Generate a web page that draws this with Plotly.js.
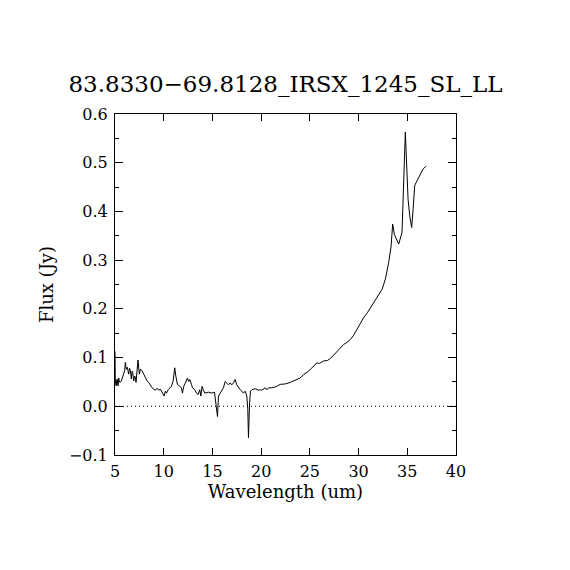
<!DOCTYPE html>
<html>
<head>
<meta charset="utf-8">
<script src="https://cdn.plot.ly/plotly-3.0.1.min.js"></script>
<style>html,body{margin:0;padding:0;background:#fff;}#plot{width:570px;height:570px;}</style>
</head>
<body>
<div id="plot"></div>
<script>
const titleText = '83.8330\u221269.8128_IRSX_1245_SL_LL';
const xTicks = [5, 10, 15, 20, 25, 30, 35, 40];
const yTicks = [-0.1, 0.0, 0.1, 0.2, 0.3, 0.4, 0.5, 0.6];

const wavelength = [
  5.00, 5.03, 5.12, 5.21, 5.31, 5.38, 5.45, 5.55, 5.65, 5.79, 5.89, 5.99, 6.06, 6.16, 6.27, 6.40,
  6.50, 6.58, 6.68, 6.75, 6.82, 6.92, 7.02, 7.10, 7.16, 7.26, 7.36, 7.50, 7.60, 7.78, 7.95, 8.12,
  8.29, 8.46, 8.63, 8.80, 8.97, 9.15, 9.32, 9.49, 9.66,
  9.76, 9.93, 10.04, 10.17, 10.28, 10.45, 10.62, 10.79, 10.96, 11.13, 11.24, 11.41, 11.65, 11.82,
  11.92, 12.06, 12.23, 12.43, 12.57, 12.67, 12.85, 12.95, 13.19, 13.36, 13.53, 13.70, 13.81, 13.94,
  14.05, 14.22,
  14.59, 14.94, 15.21, 15.35, 15.45, 15.52, 15.62, 15.79, 15.96, 16.13, 16.31, 16.48, 16.65,
  16.82, 16.99, 17.16, 17.33, 17.50, 17.68, 17.85, 18.02, 18.19, 18.36, 18.53, 18.63, 18.70,
  18.81, 18.91, 19.05, 19.39, 19.73, 19.90, 20.07, 20.25, 20.42, 20.59, 20.76, 21.10,
  21.50, 21.96, 22.50, 22.99, 23.67, 24.00, 24.35, 24.80, 25.21, 25.73, 26.00, 26.41, 26.80,
  27.10, 27.40, 27.78, 28.10, 28.47, 28.80, 29.15, 29.50, 29.84, 30.20, 30.52, 30.90, 31.21,
  31.55, 31.90, 32.15, 32.41, 32.75, 33.09, 33.34, 33.50, 33.67, 34.12, 34.46, 34.57, 34.63,
  34.80, 34.91, 35.08, 35.25, 35.45, 35.60, 35.76, 36.00, 36.35, 36.62, 36.93
];
const flux = [
  0.113, 0.052, 0.042, 0.056, 0.042, 0.058, 0.050, 0.049, 0.052, 0.059, 0.066, 0.073, 0.090, 0.076, 0.080, 0.066,
  0.078, 0.073, 0.056, 0.072, 0.069, 0.052, 0.062, 0.058, 0.049, 0.080, 0.095, 0.066, 0.076, 0.073, 0.066, 0.056,
  0.052, 0.049, 0.042, 0.038, 0.035, 0.033, 0.037, 0.033, 0.035,
  0.031, 0.027, 0.021, 0.031, 0.027, 0.034, 0.038, 0.041, 0.051, 0.079, 0.062, 0.045, 0.041, 0.038,
  0.027, 0.041, 0.048, 0.058, 0.051, 0.055, 0.045, 0.038, 0.034, 0.027, 0.024, 0.034, 0.021, 0.041,
  0.034, 0.027,
  0.029, 0.027, 0.029, 0.007, -0.007, -0.021, 0.021, 0.027, 0.031, 0.038, 0.051, 0.048, 0.044,
  0.048, 0.044, 0.048, 0.055, 0.044, 0.038, 0.034, 0.031, 0.027, 0.031, 0.021, -0.007, -0.065,
  0.007, 0.031, 0.034, 0.036, 0.033, 0.034, 0.033, 0.036, 0.038, 0.034, 0.038, 0.038,
  0.040, 0.045, 0.046, 0.049, 0.056, 0.058, 0.065, 0.071, 0.079, 0.089, 0.088, 0.093, 0.094,
  0.098, 0.104, 0.113, 0.119, 0.127, 0.131, 0.137, 0.146, 0.158, 0.170, 0.182, 0.192, 0.202,
  0.213, 0.226, 0.232, 0.240, 0.261, 0.295, 0.329, 0.374, 0.353, 0.333, 0.357, 0.425, 0.501,
  0.563, 0.508, 0.425, 0.391, 0.367, 0.405, 0.453, 0.463, 0.477, 0.487, 0.493
];

const fontFam = 'DejaVu Serif, serif';

const trace = {
  x: wavelength, y: flux, type: 'scatter', mode: 'lines',
  line: {color: '#000', width: 1}, hoverinfo: 'skip'
};

const layout = {
  width: 570, height: 570,
  margin: {l: 115, r: 114, t: 114, b: 115},
  paper_bgcolor: '#fff', plot_bgcolor: '#fff',
  showlegend: false,
  title: {
    text: titleText, x: 0.5, xanchor: 'center', xref: 'paper',
    y: 1 - 84 / 570, yref: 'container', yanchor: 'middle',
    font: {family: fontFam, size: 23, color: '#000'}
  },
  xaxis: {
    range: [5, 40], tickmode: 'array', tickvals: xTicks, ticktext: xTicks.map(String),
    ticks: 'inside', ticklen: 7, tickwidth: 1, tickcolor: '#000',
    showline: true, linecolor: '#000', linewidth: 1, mirror: 'ticks',
    showgrid: false, zeroline: false, ticklabelstandoff: 2,
    tickfont: {family: fontFam, size: 16, color: '#000'},
    title: {text: 'Wavelength (um)', font: {family: fontFam, size: 18, color: '#000'}, standoff: 4}
  },
  yaxis: {
    range: [-0.1, 0.6], tickmode: 'array', tickvals: yTicks, ticktext: yTicks.map(v => v.toFixed(1).replace('-', '\u2212')),
    ticks: 'inside', ticklen: 8, tickwidth: 1, tickcolor: '#000',
    minor: {dtick: 0.05, ticks: 'inside', ticklen: 4, tickcolor: '#000', showgrid: false},
    showline: true, linecolor: '#000', linewidth: 1, mirror: 'ticks',
    showgrid: false, zeroline: false, ticklabelstandoff: 3,
    tickfont: {family: fontFam, size: 16, color: '#000'},
    title: {text: 'Flux (Jy)', font: {family: fontFam, size: 18, color: '#000'}, standoff: 10}
  },
  shapes: [{
    type: 'line', xref: 'paper', x0: 0, x1: 1, yref: 'y', y0: 0, y1: 0,
    line: {color: '#000', width: 1, dash: '1px,3px'}, layer: 'below'
  }]
};

Plotly.newPlot('plot', [trace], layout, {staticPlot: true, displayModeBar: false});
</script>
</body>
</html>
